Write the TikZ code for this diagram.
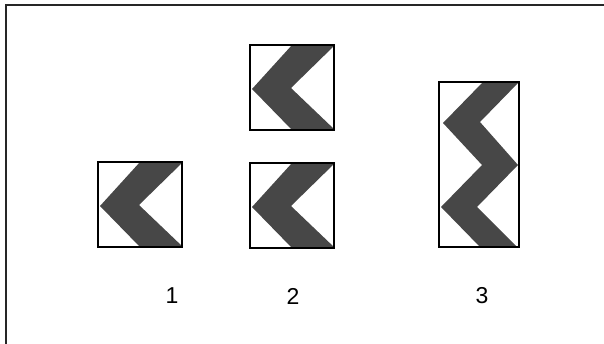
\documentclass[tikz,border=0pt]{standalone}
\usepackage{fontspec}
\setmainfont{Liberation Sans}
\begin{document}
\begin{tikzpicture}[x=1pt,y=-1pt,
  boxline/.style={draw=black,line width=1.3pt},
  band/.style={fill=black!72,draw=none},
  lbl/.style={font=\fontsize{23}{27}\selectfont,inner sep=0pt}]
\useasboundingbox (0,0) rectangle (604,344);
% frame
\draw[line width=1.1pt,draw=black!85] (6,344) -- (6,5) -- (604,5);
% chevron boxes (85 x 85)
\foreach \bx/\by in {98/162, 250/45, 250/163}{
  \begin{scope}[shift={(\bx,\by)}]
    \fill[band] (42,0) -- (85,0) -- (41,43) -- (85,85) -- (42,85) -- (2,44) -- cycle;
    \draw[boxline] (0,0) rectangle (84,85);
  \end{scope}
}
% tall box 3
\fill[band] (483,82) -- (519,82) -- (480,122) -- (518,165) -- (477,207) -- (517,247)
  -- (480,247) -- (441,207) -- (482,165) -- (443,123) -- cycle;
\draw[boxline] (439,82) rectangle (519,247);
% labels
\node[lbl] (l1) at (172,296) {1};
\node[lbl] (l2) at (293,296) {2};
\node[lbl] (l3) at (482,296) {3};
\end{tikzpicture}
\end{document}
